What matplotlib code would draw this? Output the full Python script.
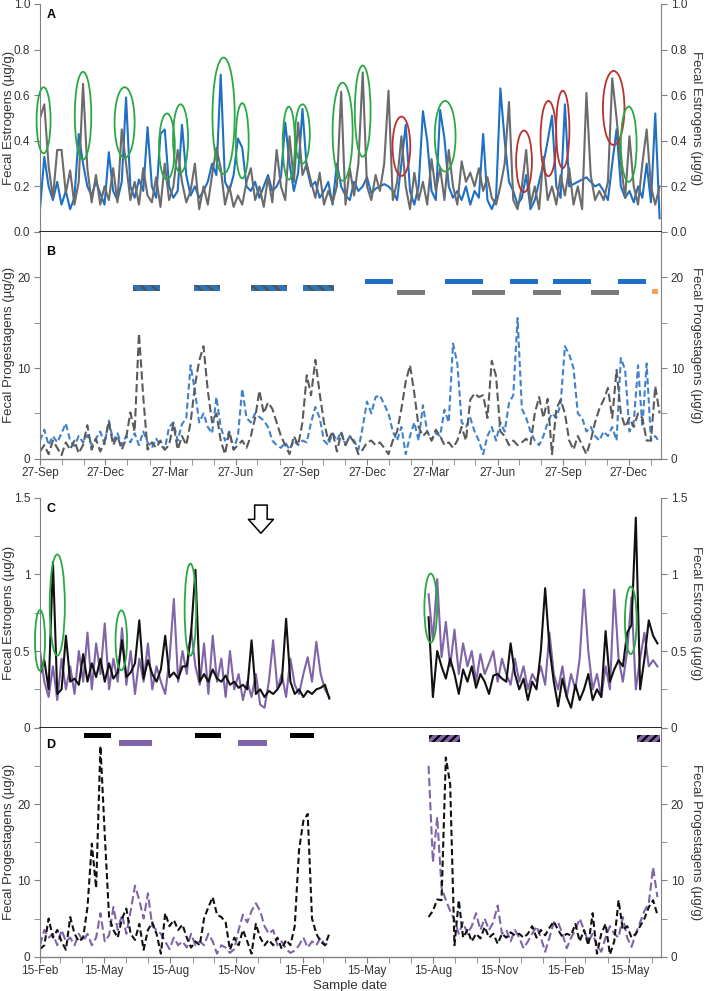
import numpy as np
import pandas as pd
import matplotlib
matplotlib.use('Agg')
import matplotlib.pyplot as plt
import matplotlib.dates as mdates
from matplotlib.patches import Ellipse
from matplotlib.ticker import MultipleLocator, FuncFormatter

plt.rcParams['font.family'] = ['Liberation Sans', 'DejaVu Sans']
plt.rcParams['hatch.linewidth'] = 1.6

# ---------------- data: panels A/B (samples every 6 days from 27-Sep) ----------------
ab_start = '2008-09-27'

a_blue = [0.10, 0.33, 0.20, 0.14, 0.22, 0.12, 0.18, 0.10, 0.15, 0.43,
          0.30, 0.20, 0.16, 0.22, 0.17, 0.12, 0.35, 0.18, 0.14, 0.22,
          0.59, 0.20, 0.15, 0.23, 0.18, 0.46, 0.20, 0.15, 0.43, 0.45,
          0.20, 0.15, 0.18, 0.47, 0.25, 0.16, 0.20, 0.15, 0.18, 0.22,
          0.30, 0.25, 0.69, 0.22, 0.18, 0.25, 0.41, 0.37, 0.20, 0.18,
          0.22, 0.15, 0.20, 0.25, 0.18, 0.20, 0.24, 0.48, 0.30, 0.18,
          0.26, 0.54, 0.28, 0.20, 0.22, 0.15, 0.18, 0.22, 0.12, 0.30,
          0.20, 0.16, 0.14, 0.22, 0.18, 0.20, 0.24, 0.17, 0.19, 0.20,
          0.21, 0.20, 0.18, 0.14, 0.30, 0.47, 0.18, 0.12, 0.20, 0.53,
          0.40, 0.18, 0.14, 0.535, 0.41, 0.20, 0.15, 0.18, 0.14, 0.20,
          0.12, 0.18, 0.15, 0.43, 0.14, 0.10, 0.15, 0.63, 0.40, 0.22,
          0.18, 0.12, 0.15, 0.25, 0.10, 0.14, 0.22, 0.30, 0.40, 0.51,
          0.20, 0.15, 0.56, 0.20, 0.21, 0.22, 0.23, 0.24, 0.22, 0.20,
          0.21, 0.18, 0.14, 0.30, 0.45, 0.20, 0.15, 0.18, 0.13, 0.20,
          0.15, 0.30, 0.13, 0.52, 0.06]

a_gray = [0.50, 0.56, 0.29, 0.15, 0.36, 0.36, 0.17, 0.27, 0.12, 0.22,
          0.65, 0.28, 0.13, 0.25, 0.12, 0.20, 0.14, 0.28, 0.13, 0.45,
          0.30, 0.14, 0.22, 0.12, 0.28, 0.16, 0.13, 0.24, 0.11, 0.30,
          0.14, 0.20, 0.36, 0.22, 0.13, 0.18, 0.30, 0.10, 0.20, 0.12,
          0.25, 0.37, 0.28, 0.12, 0.20, 0.11, 0.16, 0.12, 0.22, 0.28,
          0.14, 0.20, 0.11, 0.24, 0.13, 0.36, 0.20, 0.14, 0.42, 0.22,
          0.48, 0.25, 0.30, 0.22, 0.15, 0.26, 0.12, 0.18, 0.13, 0.20,
          0.615, 0.12, 0.28, 0.16, 0.30, 0.70, 0.20, 0.14, 0.25, 0.18,
          0.30, 0.62, 0.14, 0.22, 0.42, 0.20, 0.10, 0.26, 0.14, 0.22,
          0.12, 0.32, 0.18, 0.28, 0.14, 0.36, 0.20, 0.12, 0.31, 0.22,
          0.26, 0.20, 0.28, 0.18, 0.24, 0.15, 0.12, 0.20, 0.30, 0.57,
          0.14, 0.10, 0.20, 0.36, 0.12, 0.20, 0.10, 0.33, 0.14, 0.20,
          0.12, 0.25, 0.16, 0.28, 0.12, 0.20, 0.10, 0.61, 0.25, 0.14,
          0.18, 0.14, 0.22, 0.674, 0.50, 0.30, 0.15, 0.42, 0.20, 0.12,
          0.30, 0.45, 0.20, 0.12, 0.20]

b_blue = [2.0, 3.2, 1.5, 2.5, 1.8, 2.8, 3.9, 2.0, 1.4, 2.5,
          1.8, 2.6, 1.5, 2.2, 3.0, 1.6, 4.2, 2.0, 2.8, 1.5,
          2.5, 1.8, 2.8, 1.5, 3.0, 1.8, 1.2, 2.2, 1.5, 1.0,
          3.5, 4.0, 2.0, 3.8, 4.5, 10.3, 7.5, 4.0, 5.0, 3.5,
          2.8, 6.8, 3.5, 2.0, 3.0, 1.0, 2.5, 7.7, 4.5, 4.0,
          5.0, 4.6, 4.2, 3.5, 2.0, 1.5, 1.2, 1.8, 1.0, 2.0,
          1.5, 2.0, 1.8, 4.0, 5.7, 4.5, 2.0, 1.5, 2.8, 2.0,
          3.0, 1.5, 2.5, 2.0, 1.0, 3.5, 6.3, 5.0, 6.8, 7.0,
          6.0, 5.0, 3.0, 2.0, 3.5, 0.5, 2.5, 4.0, 2.0, 5.9,
          3.0, 2.0, 2.8, 2.5, 5.4, 4.0, 12.7, 10.5, 4.0, 3.5,
          4.5, 3.0, 2.0, 0.5, 2.5, 3.5, 2.0, 4.0, 3.0, 6.1,
          7.0, 15.5, 5.5, 4.5, 3.0, 2.0, 1.5, 2.5, 4.0, 5.0,
          4.5, 6.0, 12.4, 11.5, 10.0, 5.0, 4.5, 3.0, 3.5, 2.5,
          2.0, 3.0, 2.5, 3.5, 2.0, 11.1, 9.8, 3.0, 4.0, 10.3,
          3.5, 10.5, 2.0, 2.5, 1.8]

b_gray = [0.8, 1.5, 0.5, 2.0, 1.2, 0.4, 1.8, 1.0, 2.0, 0.6,
          1.5, 3.7, 1.0, 2.2, 0.8, 1.8, 4.1, 1.5, 2.5, 1.0,
          2.2, 5.1, 3.0, 13.8, 6.8, 1.0, 1.8, 1.2, 2.0, 1.0,
          1.5, 3.9, 1.0, 2.5, 1.5, 4.0, 8.0, 10.8, 12.4, 7.5,
          4.0, 5.0, 2.0, 0.5, 3.0, 1.0, 1.5, 2.0, 1.2, 2.5,
          4.5, 7.5, 5.0, 6.2, 5.5, 4.0, 2.5, 1.5, 0.5, 2.5,
          1.5, 4.0, 9.2, 7.0, 10.9, 7.2, 4.0, 2.0, 3.0, 0.8,
          2.8, 1.5, 2.5, 1.8, 0.5, 1.0, 1.8, 2.0, 1.5, 1.8,
          1.2, 0.5, 2.0, 3.0, 5.5, 8.5, 10.3, 7.2, 3.5, 2.5,
          3.0, 2.0, 3.2, 2.5, 1.5, 1.8, 1.2, 2.0, 3.5, 2.0,
          6.5, 7.2, 6.8, 7.0, 4.5, 10.8, 9.1, 3.0, 2.5, 1.5,
          2.0, 1.5, 1.8, 2.2, 1.6, 5.0, 6.8, 4.5, 6.6, 0.5,
          5.5, 6.5, 5.0, 2.0, 1.0, 2.5, 1.5, 0.5, 2.0, 4.0,
          5.5, 6.5, 7.8, 4.5, 9.8, 5.0, 3.5, 4.5, 3.5, 5.0,
          4.5, 2.0, 2.0, 8.0, 5.0]

# periods shown as bars above panel B
b_combo_periods = [('2009-02-03', '2009-03-13'), ('2009-04-30', '2009-06-05'),
                   ('2009-07-18', '2009-09-07'), ('2009-09-29', '2009-11-11')]
b_blue_periods = [('2009-12-24', '2010-02-01'), ('2010-04-15', '2010-06-07'),
                  ('2010-07-15', '2010-08-22'), ('2010-09-13', '2010-11-05'),
                  ('2010-12-12', '2011-01-20')]
b_gray_periods = [('2010-02-07', '2010-03-18'), ('2010-05-23', '2010-07-08'),
                  ('2010-08-16', '2010-09-24'), ('2010-11-04', '2010-12-13')]
b_orange_periods = [('2011-01-28', '2011-02-06')]

# circled peaks in panel A: date, centre, height, colour
a_circles = [('2008-10-02', 0.49, 0.29, 'g'), ('2008-11-26', 0.51, 0.385, 'g'),
             ('2009-01-23', 0.48, 0.31, 'g'), ('2009-03-23', 0.375, 0.29, 'g'),
             ('2009-04-11', 0.41, 0.30, 'g'), ('2009-06-10', 0.51, 0.51, 'g'),
             ('2009-07-06', 0.40, 0.33, 'g'), ('2009-09-09', 0.39, 0.32, 'g'),
             ('2009-09-28', 0.43, 0.26, 'g'), ('2009-11-23', 0.44, 0.43, 'g'),
             ('2009-12-21', 0.53, 0.40, 'g'), ('2010-02-13', 0.376, 0.26, 'r'),
             ('2010-04-15', 0.42, 0.31, 'g'), ('2010-08-03', 0.31, 0.27, 'r'),
             ('2010-09-06', 0.41, 0.33, 'r'), ('2010-09-26', 0.45, 0.34, 'r'),
             ('2010-12-06', 0.544, 0.325, 'r'), ('2010-12-27', 0.385, 0.33, 'g')]

# ---------------- data: panels C/D (samples every 6 days, two periods) ----------------
cd_start1 = '2009-02-15'
cd_start2 = '2010-08-09'

c_black1 = [0.35, 0.44, 0.25, 1.08, 0.22, 0.25, 0.60, 0.30, 0.32, 0.28,
            0.48, 0.30, 0.42, 0.33, 0.45, 0.30, 0.42, 0.32, 0.36, 0.57,
            0.33, 0.36, 0.42, 0.70, 0.32, 0.44, 0.35, 0.30, 0.38, 0.60,
            0.33, 0.36, 0.32, 0.40, 0.40, 0.62, 1.03, 0.30, 0.35, 0.30,
            0.38, 0.32, 0.30, 0.34, 0.28, 0.30, 0.26, 0.28, 0.25, 0.57,
            0.22, 0.25, 0.20, 0.24, 0.22, 0.25, 0.30, 0.71, 0.30, 0.22,
            0.25, 0.20, 0.24, 0.22, 0.25, 0.26, 0.28, 0.19]
c_purple1 = [0.50, 0.30, 0.20, 0.40, 0.18, 0.45, 0.25, 0.40, 0.22, 0.50,
             0.30, 0.62, 0.25, 0.55, 0.35, 0.68, 0.25, 0.45, 0.30, 0.65,
             0.28, 0.50, 0.22, 0.45, 0.30, 0.55, 0.25, 0.40, 0.30, 0.22,
             0.45, 0.84, 0.30, 0.50, 0.35, 0.64, 0.40, 0.28, 0.55, 0.22,
             0.60, 0.30, 0.45, 0.20, 0.50, 0.25, 0.35, 0.18, 0.30, 0.20,
             0.35, 0.15, 0.13, 0.30, 0.57, 0.25, 0.35, 0.20, 0.45, 0.28,
             0.22, 0.35, 0.46, 0.30, 0.56, 0.35, 0.25, 0.20]
c_black2 = [0.72, 0.20, 0.50, 0.40, 0.32, 0.45, 0.35, 0.22, 0.38, 0.30,
            0.40, 0.26, 0.35, 0.30, 0.22, 0.34, 0.35, 0.32, 0.30, 0.55,
            0.35, 0.25, 0.32, 0.18, 0.30, 0.25, 0.50, 0.91, 0.52, 0.30,
            0.14, 0.32, 0.20, 0.13, 0.28, 0.18, 0.25, 0.35, 0.18, 0.25,
            0.20, 0.63, 0.30, 0.38, 0.44, 0.40, 0.62, 0.67, 1.37, 0.25,
            0.45, 0.70, 0.60, 0.55]
c_purple2 = [0.87, 0.57, 0.97, 0.46, 0.69, 0.40, 0.64, 0.35, 0.55, 0.40,
             0.50, 0.30, 0.48, 0.35, 0.42, 0.50, 0.30, 0.45, 0.35, 0.28,
             0.45, 0.30, 0.40, 0.25, 0.35, 0.30, 0.40, 0.28, 0.62, 0.35,
             0.25, 0.40, 0.20, 0.35, 0.25, 0.45, 0.90, 0.50, 0.25, 0.35,
             0.20, 0.40, 0.25, 0.90, 0.45, 0.30, 0.50, 0.85, 0.25, 0.45,
             0.62, 0.40, 0.44, 0.40]

d_black1 = [1.0, 1.5, 5.0, 2.5, 3.5, 2.0, 0.9, 5.2, 3.0, 2.0,
            2.5, 6.5, 14.8, 9.0, 27.6, 16.0, 5.2, 3.5, 2.5, 5.0,
            6.3, 3.0, 2.2, 4.3, 0.9, 3.5, 4.5, 3.0, 0.4, 5.7,
            4.0, 4.8, 3.5, 4.2, 2.5, 1.2, 2.0, 1.5, 5.0, 6.5,
            7.8, 5.5, 5.2, 4.5, 0.9, 2.5, 1.5, 3.5, 2.0, 0.4,
            4.3, 2.5, 1.5, 2.2, 1.5, 2.5, 1.0, 2.2, 1.5, 4.0,
            14.0, 17.8, 18.7, 5.0, 3.0, 2.0, 1.5, 3.0]
d_purple1 = [1.5, 3.5, 2.5, 3.0, 1.5, 3.5, 2.0, 2.5, 1.5, 3.0,
             2.0, 3.0, 1.5, 2.5, 5.7, 2.0, 2.8, 6.5, 3.5, 5.5,
             3.0, 6.0, 9.3, 7.4, 5.0, 8.3, 4.0, 3.5, 3.0, 2.0,
             1.0, 2.5, 1.5, 2.0, 1.2, 3.0, 1.5, 2.0, 1.5, 3.0,
             2.0, 0.4, 1.5, 1.2, 0.5, 1.0, 3.5, 5.5, 4.5, 6.0,
             7.0, 6.0, 4.0, 3.0, 3.5, 1.5, 2.0, 1.0, 0.5, 0.8,
             1.5, 2.5, 1.2, 2.0, 1.5, 2.5, 1.5, 2.0]
d_black2 = [5.2, 6.0, 7.5, 7.4, 26.1, 22.6, 1.5, 7.4, 2.5, 3.5,
            2.0, 3.0, 2.4, 3.9, 2.5, 3.0, 1.7, 3.0, 2.5, 3.2,
            2.8, 3.0, 2.5, 3.0, 4.0, 2.5, 3.5, 2.8, 3.8, 4.6,
            3.5, 2.6, 3.0, 2.8, 4.3, 2.0, 3.5, 1.5, 5.7, 0.4,
            3.0, 4.3, 0.3, 2.0, 7.4, 3.5, 4.0, 2.5, 3.0, 4.0,
            5.0, 6.5, 7.4, 5.5]
d_purple2 = [25.0, 12.4, 18.3, 9.1, 7.4, 6.0, 4.8, 3.0, 4.5, 3.0,
             4.0, 5.7, 3.5, 5.0, 3.5, 4.5, 6.7, 3.0, 3.5, 2.0,
             3.5, 2.5, 1.1, 2.0, 3.0, 4.0, 2.5, 0.65, 2.5, 4.5,
             4.5, 3.0, 1.1, 2.5, 3.5, 5.0, 3.5, 2.0, 3.0, 1.5,
             0.65, 2.5, 4.0, 3.0, 2.5, 5.2, 2.5, 1.3, 3.0, 4.5,
             6.0, 7.0, 11.7, 7.8]

d_black_periods = [('2009-04-17', '2009-05-24'), ('2009-09-18', '2009-10-25'),
                   ('2010-01-29', '2010-03-03')]
d_purple_periods = [('2009-06-05', '2009-07-20'), ('2009-11-17', '2009-12-27')]
d_hatched_periods = [('2010-08-09', '2010-09-21'), ('2011-05-26', '2011-06-27')]

c_circles = [('2009-02-15', 0.57, 0.395), ('2009-03-11', 0.80, 0.66),
             ('2009-06-08', 0.57, 0.39), ('2009-09-12', 0.77, 0.60),
             ('2010-08-12', 0.78, 0.45), ('2011-05-17', 0.70, 0.44)]

# ---------------- styles ----------------
BLUE_A = '#1f6fc4'
GRAY_A = '#6b6b6b'
BLUE_B = '#4181cc'
GRAY_B = '#5a5a5a'
PURPLE = '#8064a8'
BLACK = '#111111'
GREEN = '#2aa845'
RED = '#b8322f'
AXGRAY = '#808080'
TXT = '#333333'


def dates(start, vals):
    return pd.date_range(start, periods=len(vals), freq='6D')


def bars(ax, periods, y, h, fc, hatch=None, ec='none'):
    xr = []
    for s, e in periods:
        s0 = mdates.date2num(pd.Timestamp(s))
        xr.append((s0, mdates.date2num(pd.Timestamp(e)) - s0))
    ax.broken_barh(xr, (y - h / 2, h), facecolors=fc, edgecolor=ec,
                   linewidth=0, hatch=hatch, zorder=3)


def style(ax, ymax, major, minor, label, xaxis=False):
    ax.set_ylim(0, ymax)
    ax.spines['top'].set_visible(False)
    ax.spines['left'].set_color(AXGRAY)
    ax.spines['right'].set_color(AXGRAY)
    ax.spines['bottom'].set_color('black')
    ax.spines['bottom'].set_linewidth(1.2)
    ax.yaxis.set_major_locator(MultipleLocator(major))
    ax.yaxis.set_minor_locator(MultipleLocator(minor))
    if major < 0.3:
        fmt = lambda v, p: f'{v:.1f}'
    else:
        # the top of the progestagen panels carries no label
        fmt = lambda v, p: '' if (v > ymax - 1e-6 and ymax > 2) else f'{v:g}'
    ax.yaxis.set_major_formatter(FuncFormatter(fmt))
    ax.tick_params(axis='y', which='both', direction='out', length=4,
                   left=True, right=True, labelleft=True, labelright=True,
                   color=AXGRAY, labelcolor=TXT, labelsize=8.5, pad=3)
    if not xaxis:
        ax.tick_params(axis='x', which='both', bottom=False, labelbottom=False)
    ax.text(-0.05, 0.5, label, rotation=90, transform=ax.transAxes,
            ha='center', va='center', fontsize=9.5, color=TXT)
    ax.text(1.056, 0.5, label, rotation=270, transform=ax.transAxes,
            ha='center', va='center', fontsize=9.5, color=TXT)


def circle(ax, d, yc, h, w_days, col):
    e = Ellipse((mdates.date2num(pd.Timestamp(d)), yc), w_days, h,
                fill=False, edgecolor=col, linewidth=1.3, zorder=4, clip_on=False)
    ax.add_patch(e)


fig = plt.figure(figsize=(7.04, 9.91), dpi=100)
L, W = 40 / 704, 621 / 704
axA = fig.add_axes([L, 1 - 232 / 991, W, 228 / 991])
axB = fig.add_axes([L, 1 - 458.7 / 991, W, 226.7 / 991])
axC = fig.add_axes([L, 1 - 727.7 / 991, W, 230 / 991])
axD = fig.add_axes([L, 1 - 956.7 / 991, W, 229 / 991])

ab_lim = (pd.Timestamp('2008-09-27'), pd.Timestamp('2011-02-10'))
cd_lim = (pd.Timestamp('2009-02-15'), pd.Timestamp('2011-06-28'))

# ---- A ----
axA.plot(dates(ab_start, a_blue), a_blue, color=BLUE_A, lw=1.5, zorder=2)
axA.plot(dates(ab_start, a_gray), a_gray, color=GRAY_A, lw=1.5, zorder=2)
wA = [19.5, 23, 28, 22, 21, 31, 18, 17, 20.5, 28, 22, 24.7, 29, 22, 22, 18.5, 30, 22]
for (d, yc, h, c), w in zip(a_circles, wA):
    circle(axA, d, yc, h, w, GREEN if c == 'g' else RED)
axA.set_xlim(*ab_lim)
style(axA, 1.0, 0.2, 0.2, 'Fecal Estrogens (µg/g)')

# ---- B ----
axB.plot(dates(ab_start, b_blue), b_blue, color=BLUE_B, lw=1.5,
         ls=(0, (3, 1.6)), zorder=2)
axB.plot(dates(ab_start, b_gray), b_gray, color=GRAY_B, lw=1.5,
         ls=(0, (4, 1.8)), zorder=2)
bars(axB, b_combo_periods, 18.8, 0.65, '#2e75b6', hatch='\\\\\\', ec='#505050')
bars(axB, b_blue_periods, 19.5, 0.55, '#1f6fc4')
bars(axB, b_gray_periods, 18.3, 0.55, '#7a7a7a')
bars(axB, b_orange_periods, 18.4, 0.55, '#f4a15d')
axB.set_xlim(*ab_lim)
style(axB, 25, 10, 5, 'Fecal Progestagens (µg/g)', xaxis=True)
axB.spines['bottom'].set_color(AXGRAY)
axB.spines['bottom'].set_linewidth(1.0)
axB.xaxis.set_major_locator(mdates.MonthLocator(bymonth=(3, 6, 9, 12), bymonthday=27))
axB.xaxis.set_minor_locator(mdates.MonthLocator(bymonthday=27))
axB.xaxis.set_major_formatter(mdates.DateFormatter('%d-%b'))
axB.tick_params(axis='x', which='both', direction='out', length=4, color=AXGRAY,
                labelcolor=TXT, labelsize=8.5, pad=2)

# ---- C ----
axC.plot(dates(cd_start1, c_purple1), c_purple1, color=PURPLE, lw=1.5, zorder=2)
axC.plot(dates(cd_start2, c_purple2), c_purple2, color=PURPLE, lw=1.5, zorder=2)
axC.plot(dates(cd_start1, c_black1), c_black1, color=BLACK, lw=1.5, zorder=2)
axC.plot(dates(cd_start2, c_black2), c_black2, color=BLACK, lw=1.5, zorder=2)
wC = [14, 21, 16, 16, 17.7, 16.3]
for (d, yc, h), w in zip(c_circles, wC):
    circle(axC, d, yc, h, w, GREEN)
axC.set_xlim(*cd_lim)
style(axC, 1.5, 0.5, 0.25, 'Fecal Estrogens (µg/g)')
arrow_x = mdates.date2num(pd.Timestamp('2009-12-19'))
axC.annotate('', xy=(arrow_x, 1.25), xytext=(arrow_x, 1.47),
             arrowprops=dict(arrowstyle='simple,head_width=1.8,head_length=1.0,tail_width=0.9',
                             fc='white', ec='black', lw=1.1))

# ---- D ----
axD.plot(dates(cd_start1, d_purple1), d_purple1, color=PURPLE, lw=1.5,
         ls=(0, (4, 1.8)), zorder=2)
axD.plot(dates(cd_start2, d_purple2), d_purple2, color=PURPLE, lw=1.5,
         ls=(0, (4, 1.8)), zorder=2)
axD.plot(dates(cd_start1, d_black1), d_black1, color=BLACK, lw=1.5,
         ls=(0, (3, 1.6)), zorder=2)
axD.plot(dates(cd_start2, d_black2), d_black2, color=BLACK, lw=1.5,
         ls=(0, (3, 1.6)), zorder=2)
bars(axD, d_black_periods, 29.0, 0.7, 'black')
bars(axD, d_purple_periods, 28.0, 0.7, PURPLE)
bars(axD, d_hatched_periods, 28.6, 0.9, PURPLE, hatch='////', ec='black')
axD.set_xlim(*cd_lim)
style(axD, 30, 10, 5, 'Fecal Progestagens (µg/g)', xaxis=True)
axD.spines['bottom'].set_color(AXGRAY)
axD.spines['bottom'].set_linewidth(1.0)
axD.xaxis.set_major_locator(mdates.MonthLocator(bymonth=(2, 5, 8, 11), bymonthday=15))
axD.xaxis.set_minor_locator(mdates.MonthLocator(bymonthday=15))
axD.xaxis.set_major_formatter(mdates.DateFormatter('%d-%b'))
axD.tick_params(axis='x', which='both', direction='out', length=4, color=AXGRAY,
                labelcolor=TXT, labelsize=8.5, pad=2)
axD.set_xlabel('Sample date', fontsize=9.5, color=TXT, labelpad=2)

for lab, y in [('A', 15), ('B', 252), ('C', 509), ('D', 745)]:
    fig.text(51 / 704, 1 - y / 991, lab, fontsize=9, fontweight='bold',
             ha='center', va='center')

fig.savefig('out.png', dpi=100)
